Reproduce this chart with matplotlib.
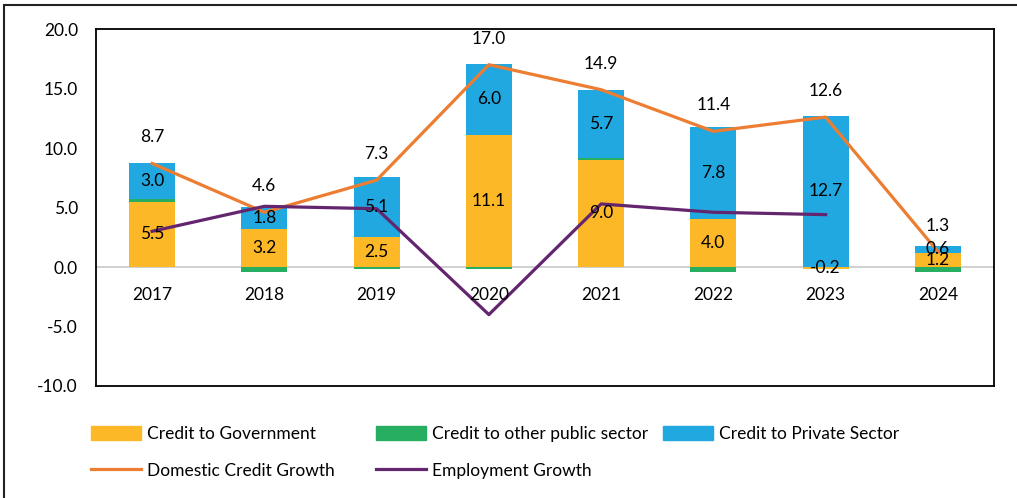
import matplotlib.pyplot as plt
import numpy as np
from matplotlib.patches import Rectangle
from matplotlib.lines import Line2D
from matplotlib.patches import Patch

plt.rcParams['font.family'] = ['Lato', 'DejaVu Sans']

years = ['2017', '2018', '2019', '2020', '2021', '2022', '2023', '2024']
credit_gov = [5.5, 3.2, 2.5, 11.1, 9.0, 4.0, -0.2, 1.2]
credit_other = [0.2, -0.4, -0.2, -0.2, 0.2, -0.4, 0.0, -0.4]
credit_private = [3.0, 1.8, 5.1, 6.0, 5.7, 7.8, 12.7, 0.6]
domestic_growth = [8.7, 4.6, 7.3, 17.0, 14.9, 11.4, 12.6, 1.3]
employment_growth = [3.0, 5.1, 4.9, -4.0, 5.3, 4.6, 4.4]

c_gov = '#FDB827'
c_other = '#27AE60'
c_private = '#22A8E0'
c_dom = '#ED7D31'
c_emp = '#64256F'
fs = 12.5

W, H = 1017, 498
fig = plt.figure(figsize=(W / 100, H / 100), dpi=100)
ax = fig.add_axes([96 / W, 1 - 386 / H, (994 - 96) / W, (386 - 29) / H])

x = np.arange(len(years))
width = 0.41

# stack positives up from zero and negatives down from zero
pos = np.zeros(len(years))
neg = np.zeros(len(years))
segments = []
for vals, col in [(credit_gov, c_gov), (credit_other, c_other), (credit_private, c_private)]:
    vals = np.array(vals)
    bottom = np.where(vals >= 0, pos, neg)
    ax.bar(x, vals, width, bottom=bottom, color=col, edgecolor='none', zorder=2)
    segments.append((vals, bottom))
    pos = pos + np.where(vals >= 0, vals, 0)
    neg = neg + np.where(vals < 0, vals, 0)

ax.plot(x, domestic_growth, color=c_dom, lw=2.3, zorder=3)
ax.plot(x[:len(employment_growth)], employment_growth, color=c_emp, lw=2.3, zorder=3)

# segment labels for government and private credit
for idx in (0, 2):
    vals, bottom = segments[idx]
    for xi, v, b in zip(x, vals, bottom):
        ax.text(xi, b + v / 2, f'{v:.1f}', ha='center', va='center', fontsize=fs, zorder=4)

for xi, v in zip(x, domestic_growth):
    ax.annotate(f'{v:.1f}', (xi, v), xytext=(0, 26), textcoords='offset pixels',
                ha='center', va='center', fontsize=fs, zorder=4)

for xi, lab in zip(x, years):
    ax.annotate(lab, (xi, 0), xytext=(0, -28), textcoords='offset pixels',
                ha='center', va='center', fontsize=fs)

ax.axhline(0, color='#C8C8C8', lw=1.2, zorder=1)
ax.set_xlim(-0.5, len(years) - 0.5)
ax.set_ylim(-10, 20)
ax.set_yticks(np.arange(-10, 21, 5))
ax.set_yticklabels([f'{t:.1f}' for t in np.arange(-10, 21, 5)], fontsize=fs)
ax.set_xticks([])
ax.tick_params(axis='y', length=0, pad=13)
for s in ax.spines.values():
    s.set_color('black')
    s.set_linewidth(1.3)

legend_cols = [
    ([Patch(color=c_gov), Line2D([], [], color=c_dom, lw=2.3)],
     ['Credit to Government', 'Domestic Credit Growth'], 91),
    ([Patch(color=c_other), Line2D([], [], color=c_emp, lw=2.3)],
     ['Credit to other public sector', 'Employment Growth'], 376),
    ([Patch(color=c_private)], ['Credit to Private Sector'], 663),
]
for handles, labels, px in legend_cols:
    fig.legend(handles, labels, loc='upper left', bbox_to_anchor=(px / W, 1 - 426 / H),
               frameon=False, fontsize=fs, handlelength=2.9, handleheight=0.8,
               handletextpad=0.3, labelspacing=1.2, borderaxespad=0, borderpad=0)

fig.add_artist(Rectangle((4 / W, -0.05), 1.1, 1 - 5 / H + 0.05, transform=fig.transFigure,
                         fill=False, edgecolor='#222222', lw=1.5))

fig.savefig('out.png', dpi=100)
